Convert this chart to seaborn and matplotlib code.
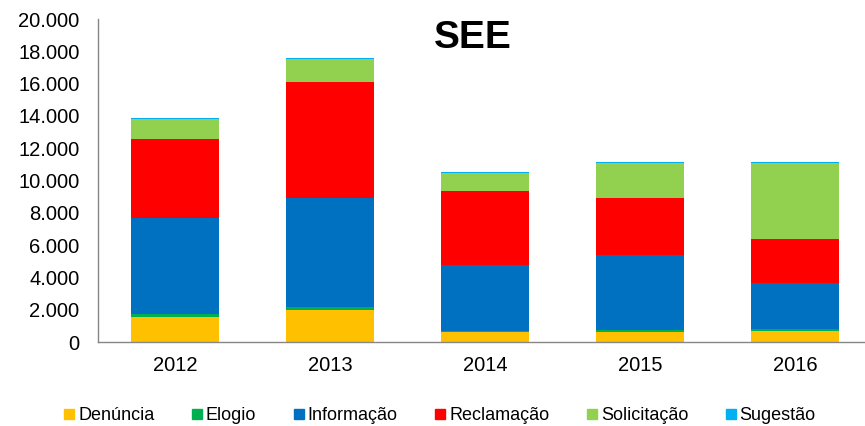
import matplotlib
matplotlib.use('Agg')
import matplotlib.pyplot as plt
import matplotlib.ticker as mticker
from matplotlib.lines import Line2D
import seaborn as sns
import pandas as pd
import numpy as np

years = ['2012', '2013', '2014', '2015', '2016']
series = ['Denúncia', 'Elogio', 'Informação', 'Reclamação', 'Solicitação', 'Sugestão']
denuncia = [1530, 1980, 600, 640, 680]
elogio = [180, 190, 80, 100, 120]
informacao = [5970, 6770, 4090, 4650, 2830]
reclamacao = [4910, 7180, 4580, 3510, 2770]
solicitacao = [1220, 1380, 1110, 2160, 4660]
sugestao = [80, 90, 70, 70, 70]
colors = ['#FFC000', '#00B050', '#0070C0', '#FF0000', '#92D050', '#00B0F0']

sns.set_style('white')
plt.rcParams['font.family'] = ['Liberation Sans', 'DejaVu Sans']
plt.rcParams['text.color'] = 'black'
plt.rcParams['xtick.color'] = 'black'
plt.rcParams['ytick.color'] = 'black'

df = pd.DataFrame({'Ano': years, 'Denúncia': denuncia, 'Elogio': elogio,
                   'Informação': informacao, 'Reclamação': reclamacao,
                   'Solicitação': solicitacao, 'Sugestão': sugestao})
cum = df[series].cumsum(axis=1)

fig = plt.figure(figsize=(8.65, 4.26), dpi=100)
ax = fig.add_axes([97.5 / 865, 84 / 426, 1 - 97.5 / 865, 323 / 426])

# stacked bars: draw cumulative totals from the top layer down
for name, col in reversed(list(zip(series, colors))):
    sns.barplot(x=df['Ano'], y=cum[name], color=col, width=0.57,
                saturation=1, ax=ax, linewidth=0)

ax.set_xlim(-0.5, 4.45)
ax.set_ylim(0, 20000)
ax.set_yticks(np.arange(0, 20001, 2000))
ax.yaxis.set_major_formatter(mticker.FuncFormatter(lambda v, p: f'{v:,.0f}'.replace(',', '.')))
ax.set_xlabel('')
ax.set_ylabel('')
ax.tick_params(axis='y', length=0, pad=13, labelsize=14.5)
ax.tick_params(axis='x', length=0, pad=10, labelsize=14.5)
for s in ['top', 'right']:
    ax.spines[s].set_visible(False)
for s in ['left', 'bottom']:
    ax.spines[s].set_color('#868686')
    ax.spines[s].set_linewidth(1)

fig.text(473 / 865, 1 - 38 / 426, 'SEE', ha='center', va='center',
         fontsize=28, fontweight='bold')

handles = [Line2D([], [], marker='s', linestyle='', markersize=7,
                  markerfacecolor=c, markeredgecolor=c) for c in colors]
fig.legend(handles, series, loc='center', bbox_to_anchor=(438 / 865, 1 - 416 / 426),
           ncol=6, frameon=False, fontsize=13, handletextpad=0.0,
           columnspacing=1.85, handlelength=1.0)

plt.savefig('out.png', dpi=100)
plt.close()
